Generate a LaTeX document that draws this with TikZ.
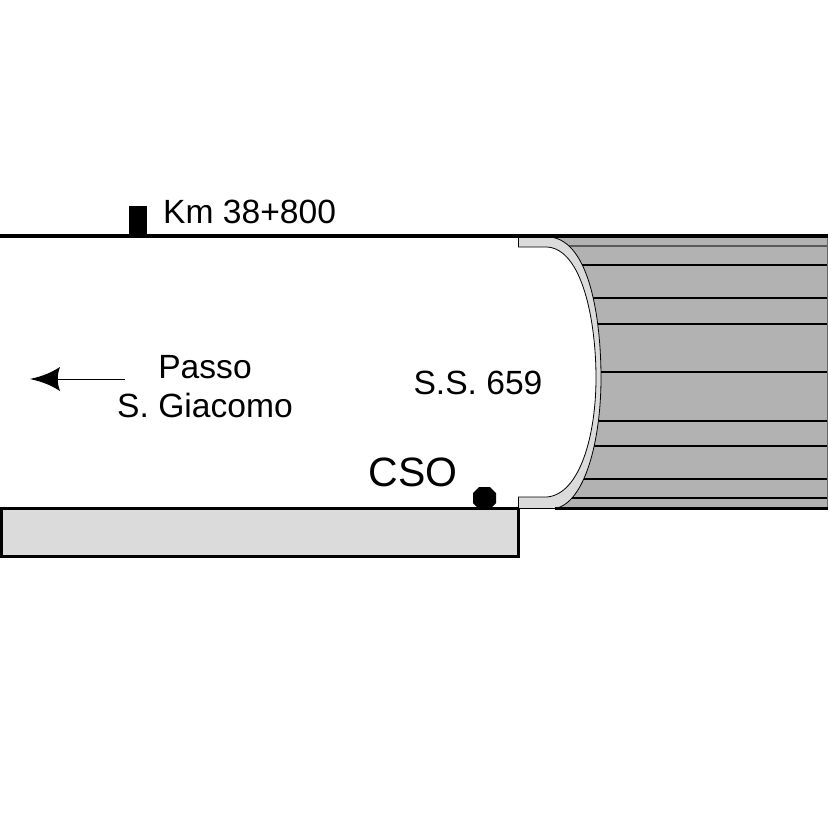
\documentclass[tikz,border=0pt]{standalone}
\usepackage{fontspec}
\setmainfont{Liberation Sans}
\definecolor{slope}{HTML}{B1B2B1}
\definecolor{pale}{HTML}{DADBDA}
\tikzset{
  lbl/.style={inner sep=0pt,anchor=base,font=\fontsize{33.6}{33.6}\selectfont},
  road/.style={line width=3.6pt,draw=black},
  berm/.style={line width=1.5pt,draw=black},
  edge/.style={line width=0.8pt,draw=black}
}
\begin{document}
\begin{tikzpicture}[x=1pt,y=-1pt]
\path[use as bounding box,fill=white] (0,0) rectangle (828,828);
% slope area, bounded on the left by the portal's outer curve
\begin{scope}
\clip (550,237) .. controls (590,241) and (601,320) .. (601,378)
  .. controls (601,440) and (585,503) .. (555,508.5)
  -- (828,508.5) -- (828,237) -- cycle;
\fill[slope] (540,230) rectangle (828,515);
\foreach \yy in {265,298,324,372,421,446,479,498}
  \draw[berm] (540,\yy) -- (828,\yy);
\draw[berm,draw=black!65,line width=1.3pt] (540,246) -- (828,246);
\draw[edge,draw=black!60] (827.6,237) -- (827.6,508);
\end{scope}
% tunnel portal
\fill[pale,draw=black,line width=0.8pt] (518.5,237) -- (550,237)
  .. controls (590,241) and (601,320) .. (601,378)
  .. controls (601,440) and (585,503) .. (555,508.5)
  -- (518.5,508.5) -- (518.5,497)
  -- (547,497) .. controls (580,494) and (596,435) .. (596,378)
  .. controls (596,320) and (582,249) .. (547,247)
  -- (518.5,247) -- cycle;
% ground and carriageway
\filldraw[fill=pale,draw=black,line width=2.6pt] (1.3,509) rectangle (518.7,556.5);
\draw[road] (0,236) -- (828,236);
\draw[road] (0,508.5) -- (518,508.5);
\draw[road] (555,508.5) -- (828,508.5);
% marker post
\fill[black] (129,206) rectangle (146.5,236);
% direction arrow
\coordinate (arrowstart) at (125,379);
\coordinate (arrowend) at (55,379);
\draw[line width=0.9pt] (arrowstart) -- (arrowend);
\fill[black] (30,379) .. controls (44,376) and (52,372) .. (60,367) .. controls (57,375) and (57,383) .. (60,391) .. controls (52,386) and (44,382) .. (30,379) -- cycle;
% station dot
\fill[black] (479,487) -- (490,487) -- (496,493) -- (496,503) -- (491,508) -- (478,508) -- (473,503) -- (473,493) -- cycle;
% labels
\node[lbl,anchor=base west] (km) at (163,223) {Km 38+800};
\node[lbl] (passo) at (205,378) {Passo};
\node[lbl] (giacomo) at (205,417) {S. Giacomo};
\node[lbl] (ss) at (478,394) {S.S. 659};
\node[lbl,font=\fontsize{41}{41}\selectfont] (cso) at (413,486.5) {CSO};
\end{tikzpicture}
\end{document}
